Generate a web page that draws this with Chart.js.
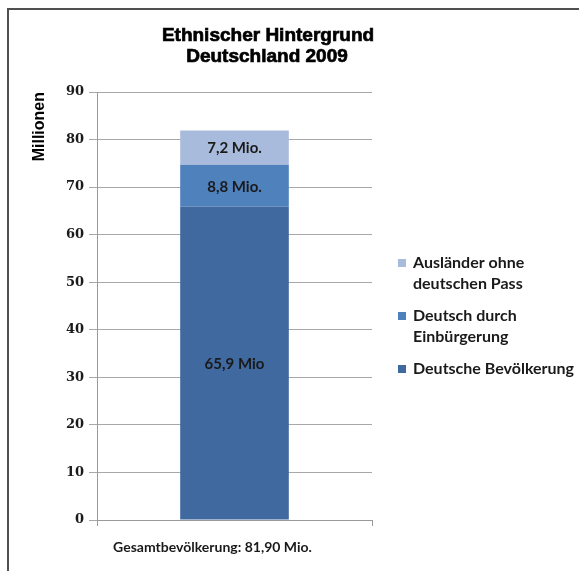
<!DOCTYPE html>
<html>
<head>
<meta charset="utf-8">
<script src="https://cdn.jsdelivr.net/npm/chart.js@4"></script>
<style>
  html, body { margin: 0; padding: 0; background: #fff; }
  #wrap { position: relative; width: 579px; height: 571px; }
</style>
</head>
<body>
<div id="wrap"><canvas id="c" width="579" height="571"></canvas></div>
<script>
// Category and series data (millions)
const categories = ['Gesamtbevölkerung: 81,90 Mio.'];
const deutsche = [65.9];
const eingebuergert = [8.8];
const auslaender = [7.2];
const seriesNames = ['Deutsche Bevölkerung', 'Deutsch durch Einbürgerung', 'Ausländer ohne deutschen Pass'];
const legendLines = [['Deutsche Bevölkerung'], ['Deutsch durch', 'Einbürgerung'], ['Ausländer ohne', 'deutschen Pass']];
const labelSuffix = [' Mio', ' Mio.', ' Mio.'];
const titleLines = ['Ethnischer Hintergrund', 'Deutschland 2009'];
const axisTitle = 'Millionen';
const yMin = 0, yMax = 90, yStep = 10;

const colors = ['#4069a0', '#4f81bd', '#a9bbdc'];

// Frame, title and legend drawn around the plot
const decorations = {
  id: 'decorations',
  beforeDraw(chart) {
    const ctx = chart.ctx;
    ctx.save();
    ctx.fillStyle = '#fff';
    ctx.fillRect(0, 0, chart.width, chart.height);
    ctx.strokeStyle = '#505050';
    ctx.lineWidth = 2;
    ctx.beginPath();
    ctx.moveTo(7, 9); ctx.lineTo(chart.width, 9);
    ctx.moveTo(8, 8); ctx.lineTo(8, chart.height);
    ctx.stroke();
    ctx.restore();
  },
  afterDraw(chart) {
    const ctx = chart.ctx;
    ctx.save();
    // title, with a thin outline for a heavier look
    ctx.fillStyle = '#000';
    ctx.strokeStyle = '#000';
    ctx.lineWidth = 0.7;
    ctx.font = 'bold 19px "Liberation Sans", Arial, sans-serif';
    ctx.textAlign = 'center';
    ctx.textBaseline = 'middle';
    ctx.fillText(titleLines[0], 268, 36);
    ctx.strokeText(titleLines[0], 268, 36);
    ctx.fillText(titleLines[1], 267, 57);
    ctx.strokeText(titleLines[1], 267, 57);

    // legend, top entry = top stack segment
    ctx.font = 'bold 16px Lato, "Open Sans", sans-serif';
    ctx.textAlign = 'left';
    let y = 263;
    for (let i = seriesNames.length - 1; i >= 0; i--) {
      const lines = legendLines[i];
      ctx.fillStyle = colors[i];
      ctx.fillRect(398, y - 4, 8, 8);
      ctx.fillStyle = '#1a1a1a';
      lines.forEach((t, k) => ctx.fillText(t, 413, y + k * 21));
      y += lines.length * 21 + 11;
    }
    ctx.restore();
  }
};

// Value labels centred in each stacked segment
const segmentLabels = {
  id: 'segmentLabels',
  afterDatasetsDraw(chart) {
    const ctx = chart.ctx;
    ctx.save();
    ctx.font = 'bold 15px Lato, "Open Sans", sans-serif';
    ctx.fillStyle = '#1a1a1a';
    ctx.textAlign = 'center';
    ctx.textBaseline = 'middle';
    chart.data.datasets.forEach((ds, i) => {
      const meta = chart.getDatasetMeta(i);
      meta.data.forEach((bar, j) => {
        const v = ds.data[j];
        const text = v.toFixed(1).replace('.', ',') + labelSuffix[i];
        ctx.fillText(text, bar.x, (bar.y + bar.base) / 2 + 1);
      });
    });
    ctx.restore();
  }
};

const seriesValues = [deutsche, eingebuergert, auslaender];

new Chart(document.getElementById('c'), {
  type: 'bar',
  data: {
    labels: categories,
    datasets: seriesValues.map((vals, i) => ({
      label: seriesNames[i],
      data: vals,
      backgroundColor: colors[i],
      borderWidth: 0,
      barPercentage: 0.395,
      categoryPercentage: 1
    }))
  },
  options: {
    responsive: false,
    animation: false,
    devicePixelRatio: 1,
    layout: { padding: { left: 22, right: 207, top: 92, bottom: 0 } },
    plugins: {
      legend: { display: false },
      title: { display: false },
      tooltip: { enabled: false }
    },
    scales: {
      x: {
        stacked: true,
        offset: true,
        grid: { display: true, drawOnChartArea: false, drawTicks: true, tickLength: 6, color: '#9a9a9a' },
        border: { display: true, color: '#9a9a9a' },
        ticks: {
          color: '#1a1a1a',
          padding: 13,
          labelOffset: -22,
          font: { family: 'Lato, "Open Sans", sans-serif', size: 14, weight: 'bold' }
        },
        afterFit(scale) { scale.height = 51; }
      },
      y: {
        stacked: true,
        min: yMin,
        max: yMax,
        ticks: {
          stepSize: yStep,
          color: '#1a1a1a',
          padding: 5,
          font: { family: '"DejaVu Serif", serif', size: 13, weight: 'bold' }
        },
        grid: { color: '#a8a8a8', lineWidth: 1, drawTicks: true, tickLength: 8 },
        border: { display: true, color: '#9a9a9a' },
        title: {
          display: true,
          text: axisTitle,
          align: 'end',
          color: '#000',
          padding: { top: 8, bottom: 0 },
          font: { family: '"Liberation Sans", Arial, sans-serif', size: 16, weight: 'bold' }
        },
        afterFit(scale) { scale.width = 75; }
      }
    }
  },
  plugins: [decorations, segmentLabels]
});
</script>
</body>
</html>
